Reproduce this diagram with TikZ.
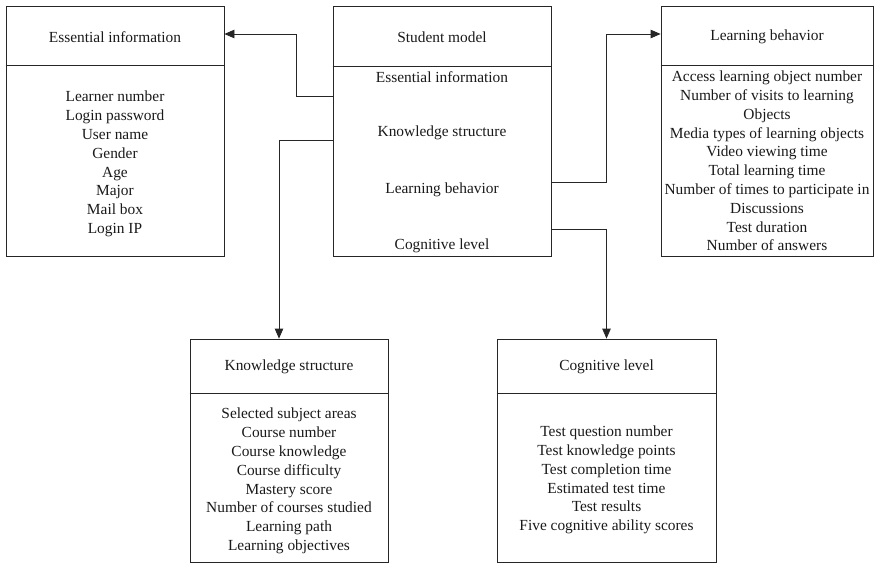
\documentclass[tikz,border=0pt]{standalone}
\usepackage{fontspec}
\setmainfont{Liberation Serif}
\usetikzlibrary{arrows.meta}
\begin{document}
\begin{tikzpicture}[x=1pt,y=-1pt,
  every node/.style={font=\fontsize{15.4}{18.8}\selectfont, text=black!90, inner sep=0pt},
  box/.style={draw=black!85, line width=0.8pt, minimum width=#1, inner sep=0pt},
  divline/.style={draw=black!85, line width=0.8pt},
  items/.style={align=center},
  conn/.style={draw=black!85, line width=0.8pt},
  arr/.style={conn, -{Triangle[length=10pt,width=8.5pt]}}]
\useasboundingbox (0,0) rectangle (874,563);
% Essential information
\node[box=218pt, minimum height=250pt] (ei) at (115,131) {};
\draw[divline] (ei.west |- 0,65) -- (ei.east |- 0,65);
\node (eit) at (115,37) {Essential information};
\node[items] (eii) at (115,164) {Learner number\\Login password\\User name\\Gender\\Age\\Major\\Mail box\\Login IP};
% Student model
\node[box=218pt, minimum height=250pt] (sm) at (442,131) {};
\draw[divline] (sm.west |- 0,66) -- (sm.east |- 0,66);
\node (smt) at (442,37) {Student model};
\node (sm1) at (442,77) {Essential information};
\node (sm2) at (442,133) {Knowledge structure};
\node (sm3) at (442,190) {Learning behavior};
\node (sm4) at (442,246) {Cognitive level};
% Learning behavior
\node[box=212pt, minimum height=250pt] (lb) at (767,131) {};
\draw[divline] (lb.west |- 0,65) -- (lb.east |- 0,65);
\node (lbt) at (767,37) {Learning behavior};
\node[items] (lbi) at (767,161) {Access learning object number\\Number of visits to learning\\Objects\\Media types of learning objects\\Video viewing time\\Total learning time\\Number of times to participate in\\Discussions\\Test duration\\Number of answers};
% Knowledge structure
\node[box=198pt, minimum height=223pt] (ks) at (289,450.5) {};
\draw[divline] (ks.west |- 0,393) -- (ks.east |- 0,393);
\node (kst) at (289,367) {Knowledge structure};
\node[items] (ksi) at (289,481) {Selected subject areas\\Course number\\Course knowledge\\Course difficulty\\Mastery score\\Number of courses studied\\Learning path\\Learning objectives};
% Cognitive level
\node[box=219pt, minimum height=223pt] (cl) at (606.5,450.5) {};
\draw[divline] (cl.west |- 0,393) -- (cl.east |- 0,393);
\node (clt) at (606.5,367) {Cognitive level};
\node[items] (cli) at (606.5,480) {Test question number\\Test knowledge points\\Test completion time\\Estimated test time\\Test results\\Five cognitive ability scores};
% connectors
\draw[arr] ([yshift=35pt]sm.west) -- ++(-36pt,0) |- ([yshift=97pt]ei.east);
\draw[arr] ([yshift=-9pt]sm.west) -| ([xshift=-10pt]ks.north);
\draw[arr] ([yshift=-51pt]sm.east) -- ++(55pt,0) |- ([yshift=97pt]lb.west);
\draw[arr] ([yshift=-98pt]sm.east) -| (cl.north);
\end{tikzpicture}
\end{document}
